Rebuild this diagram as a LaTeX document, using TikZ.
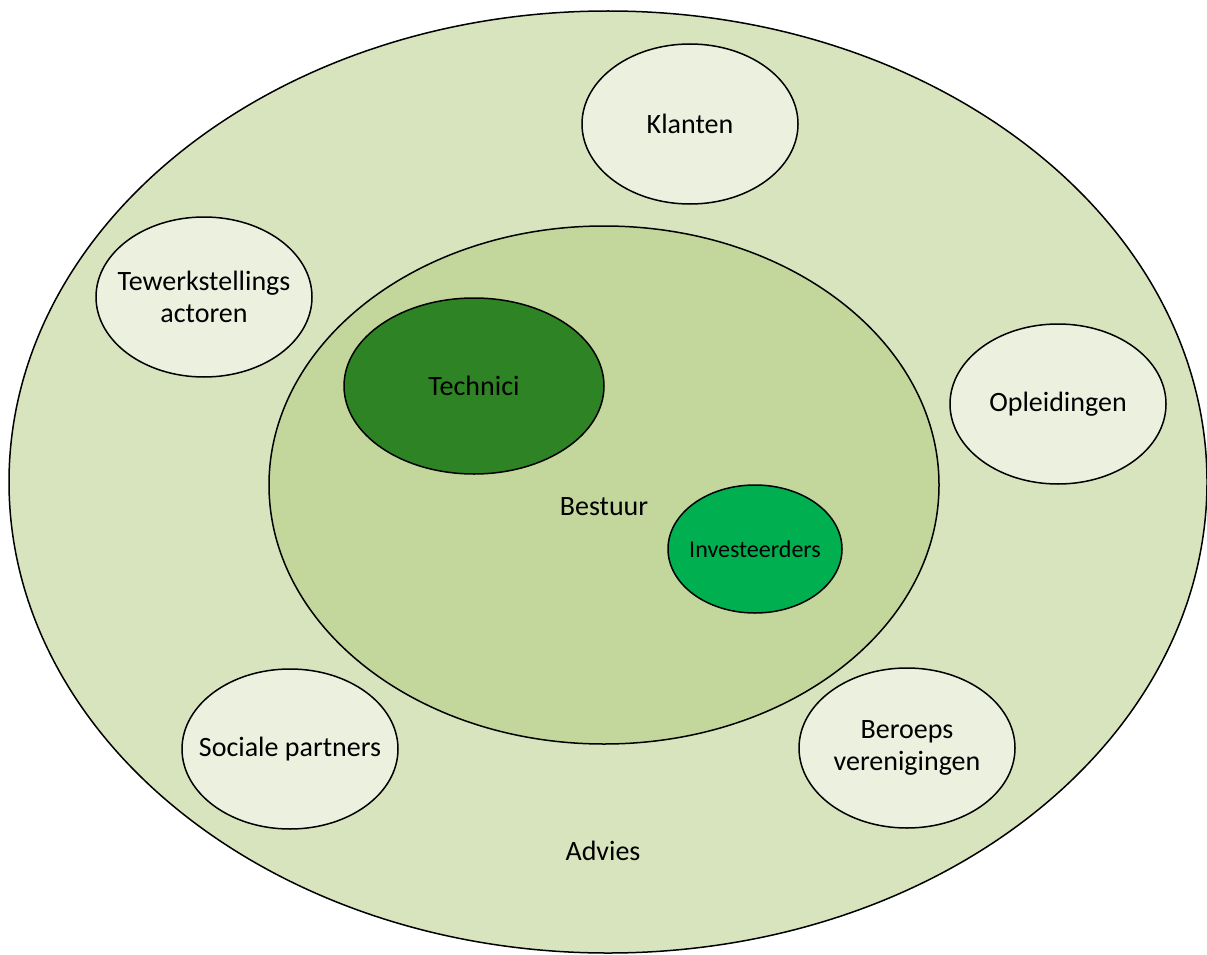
\documentclass[tikz,border=0pt]{standalone}
\usepackage{fontspec}
\setmainfont{Carlito}
\usetikzlibrary{shapes.geometric}

\definecolor{adviesgroen}{HTML}{D7E4BD}
\definecolor{bestuurgroen}{HTML}{C3D69B}
\definecolor{actorgroen}{HTML}{EBF1DE}
\definecolor{technicigroen}{HTML}{2E8324}
\definecolor{investgroen}{HTML}{00B050}

\begin{document}
\begin{tikzpicture}[x=1pt,y=-1pt,
  ring/.style={ellipse,draw=black,line width=1.5pt,inner sep=-40pt},
  actor/.style={ring,fill=actorgroen,minimum width=216pt,minimum height=160pt,
    align=center,font=\fontsize{28}{32}\selectfont},
  tekst/.style={font=\fontsize{28}{32}\selectfont}]
 \useasboundingbox (0,0) rectangle (1207,955);

 \node[ring,fill=adviesgroen,minimum width=1198pt,minimum height=942pt] (advies) at (608,482) {};
 \node[ring,fill=bestuurgroen,minimum width=670pt,minimum height=518pt] (bestuur) at (604,485) {};
 \node[ring,fill=technicigroen,minimum width=260pt,minimum height=176pt,tekst] (technici) at (474,386) {Technici};
 \node[ring,fill=investgroen,minimum width=174pt,minimum height=128pt,font=\fontsize{24}{28}\selectfont] (invest) at (755,549) {Investeerders};

 \node[actor] (klanten) at (690,124) {Klanten};
 \node[actor] (tewerk) at (204,297) {Tewerkstellings\\actoren};
 \node[actor] (opleid) at (1058,404) {Opleidingen};
 \node[actor] (sociaal) at (290,749) {Sociale partners};
 \node[actor] (beroeps) at (907,748) {Beroeps\\verenigingen};

 \node[tekst] (bestuurlabel) at (604,507) {Bestuur};
 \node[tekst] (advieslabel) at (603,851) {Advies};
\end{tikzpicture}
\end{document}
